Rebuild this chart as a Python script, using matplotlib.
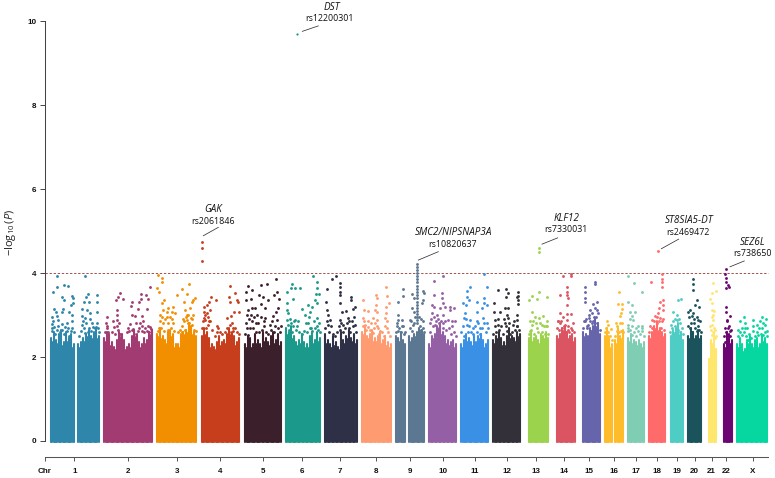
import matplotlib
matplotlib.use("Agg")
import matplotlib.pyplot as plt
import numpy as np

plt.rcParams["mathtext.fontset"] = "custom"
plt.rcParams["mathtext.rm"] = "Open Sans"
plt.rcParams["mathtext.it"] = "Open Sans:italic"

# Chromosome labels, tick positions on the cumulative genome axis, and colours
chrom_names = [str(i) for i in range(1, 23)] + ["X"]
chrom_ticks = [74.3, 127.7, 176.7, 220.3, 262.7, 302.3, 340.3, 376, 410, 442.7, 474.7, 506.7,
               536.3, 563.7, 589.3, 614, 636.3, 657, 676.7, 694.7, 711.7, 726, 752.7]
chrom_colors = ["#2E86AB", "#A23B72", "#F18F01", "#C73E1D", "#3B1F2B", "#1B998B", "#2D3047",
                "#FF9B71", "#5C7791", "#955FA5", "#3A90E5", "#33303A", "#9BD34D", "#DB5461",
                "#6665AB", "#FFBC2A", "#7FCDB2", "#FF6B6B", "#4ECDC4", "#1A535C", "#FFE66D",
                "#6A0572", "#06D6A0"]

# Covered stretches per chromosome (start, end); 1, 9 and 16 are split at the centromere
spans = [[(50.0, 75.0), (77.3, 99.7)], [(103.3, 153.0)], [(156.3, 197.3)], [(201.0, 240.3)],
         [(244.3, 281.7)], [(285.0, 321.0)], [(324.0, 357.7)], [(361.0, 391.7)],
         [(395.0, 406.0), (408.3, 425.0)], [(428.3, 457.0)], [(460.3, 489.3)], [(492.3, 520.7)],
         [(527.7, 549.0)], [(556.0, 575.7)], [(582.3, 601.0)], [(604.0, 612.7), (614.0, 624.0)],
         [(627.3, 645.0)], [(648.3, 665.7)], [(669.7, 684.0)], [(687.3, 702.0)],
         [(707.7, 717.0)], [(723.3, 732.7)], [(736.0, 768.3)]]

# Upper edge of the dense mass of variants, left to right along each stretch
mass_1a = [2.45, 2.6, 2.4, 2.55, 2.65, 2.35, 2.6, 2.45, 2.55, 2.3]
mass_1b = [2.3, 2.35, 2.45, 2.55, 2.65, 2.5, 2.6, 2.7, 2.5]
mass_2 = [2.45, 2.6, 2.55, 2.35, 2.25, 2.4, 2.6, 2.55, 2.4, 2.25, 2.3, 2.5, 2.65, 2.55, 2.35, 2.3, 2.45, 2.4, 2.6, 2.65]
mass_3 = [2.55, 2.7, 2.5, 2.4, 2.6, 2.65, 2.55, 2.3, 2.3, 2.55, 2.6, 2.65, 2.8, 2.75, 2.6, 2.5]
mass_4 = [2.5, 2.7, 2.6, 2.45, 2.3, 2.25, 2.35, 2.5, 2.35, 2.4, 2.55, 2.7, 2.6, 2.5, 2.35, 2.45]
mass_5 = [2.3, 2.5, 2.45, 2.3, 2.55, 2.4, 2.3, 2.6, 2.45, 2.35, 2.5, 2.6, 2.4, 2.55, 2.35]
mass_6 = [2.7, 2.6, 2.75, 2.5, 2.35, 2.4, 2.55, 2.35, 2.3, 2.5, 2.6, 2.4, 2.6, 2.45]
mass_7 = [2.55, 2.4, 2.3, 2.5, 2.35, 2.25, 2.6, 2.4, 2.5, 2.65, 2.45, 2.55, 2.4]
mass_8 = [2.6, 2.75, 2.5, 2.55, 2.65, 2.45, 2.5, 2.6, 2.4, 2.5, 2.35, 2.3]
mass_9a = [2.5, 2.45, 2.6, 2.4, 2.3]
mass_9b = [2.5, 2.45, 2.55, 2.6, 2.7, 2.65, 2.55]
mass_10 = [2.3, 2.5, 2.55, 2.75, 2.8, 2.6, 2.5, 2.4, 2.35, 2.4, 2.3]
mass_11 = [2.3, 2.4, 2.55, 2.45, 2.35, 2.5, 2.35, 2.5, 2.55, 2.4, 2.3, 2.4]
mass_12 = [2.4, 2.5, 2.6, 2.45, 2.35, 2.5, 2.7, 2.5, 2.45, 2.6, 2.55]
mass_13 = [2.45, 2.6, 2.45, 2.5, 2.4, 2.55, 2.5, 2.6, 2.45]
mass_14 = [2.5, 2.55, 2.7, 2.75, 2.6, 2.5, 2.55, 2.45]
mass_15 = [2.6, 2.55, 2.5, 2.7, 2.75, 2.9, 2.8, 2.55]
mass_16a = [2.5, 2.7, 2.45, 2.3]
mass_16b = [2.4, 2.7, 2.5, 2.65]
mass_17 = [2.45, 2.55, 2.4, 2.35, 2.4, 2.3, 2.35]
mass_18 = [2.5, 2.6, 2.75, 2.85, 2.7, 2.6, 2.55]
mass_19 = [2.5, 2.65, 2.7, 2.8, 2.6, 2.4]
mass_20 = [2.5, 2.7, 2.6, 2.5, 2.65, 2.5]
mass_21 = [1.7, 2.4, 2.6, 2.2]
mass_22 = [2.3, 2.6, 2.55, 2.4]
mass_x = [2.3, 2.45, 2.3, 2.2, 2.4, 2.5, 2.3, 2.4, 2.45, 2.3, 2.5, 2.45, 2.3]
masses = [[mass_1a, mass_1b], [mass_2], [mass_3], [mass_4], [mass_5], [mass_6], [mass_7], [mass_8],
          [mass_9a, mass_9b], [mass_10], [mass_11], [mass_12], [mass_13], [mass_14], [mass_15],
          [mass_16a, mass_16b], [mass_17], [mass_18], [mass_19], [mass_20], [mass_21], [mass_22], [mass_x]]

# Individual variants standing above the mass: (position, -log10 P)
snps_1 = [(57.3, 3.93), (53.3, 3.55), (57.3, 3.68), (64, 3.72), (68, 3.69), (62, 3.42), (64.3, 3.35), (71.7, 3.46),
          (73.3, 3.40), (73.3, 3.28), (71, 3.24), (54, 3.14), (56, 3.08), (63.3, 3.14), (52.3, 2.95), (56.7, 2.97),
          (61.7, 3.08), (69.3, 3.08), (71.7, 3.0), (53.3, 2.85), (58.3, 2.89), (66.7, 2.82), (72, 2.87), (51.7, 2.69),
          (52, 2.61), (56.7, 2.65), (61.7, 2.65), (66.7, 2.61), (70.7, 2.63),
          (85, 3.94), (87.7, 3.50), (86, 3.44), (97.3, 3.47), (84.3, 3.32), (89.3, 3.30), (96.7, 3.32), (82.3, 3.15),
          (87.3, 3.12), (97.3, 3.07), (90, 3.04), (81.7, 2.97), (85, 2.93), (90, 2.90), (97.3, 2.81), (91.7, 2.81),
          (82.3, 2.77), (89.3, 2.69), (95, 2.69), (85, 2.57), (98.3, 2.69),
          (52, 2.78), (54, 2.72), (55, 2.55), (58, 2.75), (60, 2.6), (62, 2.78), (64, 2.55), (65, 2.72), (68, 2.7),
          (69, 2.5), (72, 2.7), (74, 2.6), (79, 2.5), (81, 2.62), (83, 2.85), (84, 2.7), (86, 2.8), (88, 2.6), (91, 2.62),
          (93, 2.72), (94, 2.55), (96, 2.72), (99, 2.6)]
snps_2 = [(120, 3.52), (118.3, 3.44), (123.3, 3.39), (115.7, 3.35), (131.7, 3.30), (131, 3.22), (141, 3.51),
          (145.7, 3.48), (141, 3.38), (147.7, 3.39), (150, 3.66), (139.3, 3.32), (117.3, 3.12), (107.3, 2.95),
          (116.7, 3.0), (113.3, 2.85), (138.3, 3.14), (146.7, 3.14), (131.7, 3.0), (135, 2.97), (141.7, 2.97),
          (143.3, 2.85), (140, 2.81), (106.7, 2.69), (116.7, 2.73), (128.3, 2.69), (148.3, 2.73), (133.3, 2.66),
          (141.7, 2.63),
          (105, 2.6), (105.5, 2.8), (107, 2.75), (108, 2.6), (112, 2.6), (114, 2.72), (115, 2.55), (117, 2.88), (118, 2.65),
          (119, 2.8), (120, 2.55), (127, 2.6), (129, 2.62), (130, 2.78), (132, 2.65), (134, 2.55), (136, 2.8), (138, 2.62),
          (139, 2.7), (142, 2.75), (144, 2.6), (145, 2.7), (147, 2.62), (149, 2.6), (150, 2.72), (151, 2.66)]
snps_3 = [(157.7, 3.96), (162.3, 3.88), (162.3, 3.80), (157.3, 3.64), (159.3, 3.54), (189.3, 3.74), (181.7, 3.62),
          (176.7, 3.48), (187.3, 3.50), (195.3, 3.40), (192.7, 3.36), (184.3, 3.32), (191.7, 3.30), (164.3, 3.36),
          (162.3, 3.28), (173.3, 3.19), (168.3, 3.17), (163.3, 3.12), (190, 3.16), (185, 3.12), (160, 3.0),
          (166.7, 3.08), (171.7, 3.08), (188.3, 3.0), (190.7, 2.93), (186.7, 2.89), (193.3, 3.0), (163.3, 2.81),
          (168.3, 2.81), (173.3, 2.81), (181.7, 2.73), (188.3, 2.81), (191.7, 2.77), (159, 2.69),
          (158, 2.62), (160, 2.85), (161, 2.7), (162, 2.95), (164, 2.62), (165, 2.9), (167, 2.95), (168, 2.65), (170, 2.95),
          (171, 2.7), (172, 2.9), (174, 2.62), (178, 2.6), (180, 2.65), (182, 2.6), (184, 2.85), (185, 2.65), (186, 2.95),
          (187, 3.0), (189, 2.8), (190, 2.68), (192, 2.9), (194, 2.65), (196, 2.62), (183, 2.9), (175, 3.05)]
snps_4 = [(202.3, 4.73), (202.3, 4.61), (202.3, 4.29), (211, 3.42), (216, 3.35), (209.3, 3.30), (206.7, 3.24),
          (204, 3.20), (210, 3.12), (204, 3.08), (230, 3.70), (235.3, 3.52), (229, 3.42), (236.7, 3.36), (230, 3.31),
          (238, 3.31), (234.3, 3.08), (238.7, 3.07), (226.7, 2.93), (230.7, 2.97), (205, 2.89), (209.3, 2.85),
          (204, 2.93), (218.3, 2.69), (216.7, 2.73), (230, 2.77), (233.3, 2.69), (208.3, 2.77),
          (202, 2.7), (203, 2.85), (205, 3.0), (206, 2.7), (207, 3.05), (208, 2.95), (210, 2.85), (212, 2.65), (220, 2.6),
          (222, 2.55), (225, 2.6), (227, 2.7), (229, 2.6), (232, 2.8), (233, 2.62), (235, 2.7), (237, 2.6), (239, 2.55),
          (217, 2.6), (215, 2.5)]
snps_5 = [(248.3, 3.70), (246, 3.55), (252.3, 3.60), (259.3, 3.48), (246, 3.35), (250.7, 3.38), (252.3, 3.16),
          (255, 3.17), (248.3, 3.12), (256.7, 3.0), (251.7, 2.85), (247.3, 2.69), (255.7, 2.81), (248.3, 2.53),
          (275.7, 3.85), (267.3, 3.74), (261, 3.72), (276.7, 3.55), (274, 3.48), (262.7, 3.44), (268.3, 3.36),
          (279, 3.39), (265, 3.18), (261, 3.27), (278.3, 3.16), (276, 3.07), (265, 2.93), (273.3, 2.97), (277.3, 2.89),
          (270, 2.77), (264, 2.73),
          (245, 2.55), (246, 2.8), (247, 3.0), (249, 2.9), (250, 2.7), (251, 3.0), (253, 2.7), (254, 2.95), (256, 2.6),
          (258, 2.8), (259, 2.6), (261, 2.95), (262, 2.65), (264, 2.85), (266, 2.6), (268, 2.55), (271, 2.65), (272, 2.85),
          (274, 2.6), (275, 2.75), (278, 2.7), (280, 2.6), (281, 2.75)]
snps_6 = [(312.7, 3.92), (292.3, 3.74), (300, 3.64), (295, 3.64), (286.7, 3.55), (290.7, 3.64), (317.3, 3.78),
          (316.7, 3.64), (316, 3.50), (319.3, 3.50), (292.7, 3.39), (315, 3.36), (316.7, 3.28), (308.3, 3.24),
          (311.7, 3.19), (302.3, 3.14), (286.7, 3.28), (286.7, 3.12), (288.3, 3.04), (305, 3.0), (310, 3.08),
          (290, 2.9), (295, 2.89), (316.7, 2.93), (298.3, 2.85), (308.3, 2.81), (288.3, 2.77), (293.3, 2.73),
          (318.3, 2.65), (310, 2.69),
          (287, 2.88), (289, 2.65), (291, 2.8), (292, 2.6), (294, 2.85), (296, 2.65), (297, 2.75), (299, 2.6), (302, 2.55),
          (304, 2.62), (306, 2.8), (307, 2.6), (309, 2.95), (311, 2.7), (312, 2.62), (314, 2.85), (315, 2.7), (317, 2.75),
          (319, 2.82), (320, 2.6)]
snps_7 = [(335.7, 3.93), (331.7, 3.86), (340, 3.76), (340, 3.66), (326.7, 3.62), (340, 3.56), (340, 3.48),
          (350.7, 3.44), (350.7, 3.36), (326, 3.32), (340, 3.28), (326.7, 3.12), (328.3, 3.0), (355, 3.2), (352.7, 3.14),
          (346, 3.1), (341.7, 3.07), (348.3, 2.93), (330, 2.89), (340, 2.89), (351.7, 2.85), (343.3, 2.77), (328.3, 2.77),
          (355, 2.77), (340, 2.65), (349.3, 2.69),
          (325, 2.7), (327, 2.85), (329, 2.6), (331, 2.75), (333, 2.55), (335, 2.5), (337, 2.6), (339, 2.75), (341, 2.8),
          (343, 2.6), (345, 2.7), (347, 2.8), (349, 2.85), (350, 2.6), (353, 2.75), (354, 2.95), (356, 2.6)]
snps_8 = [(386, 3.66), (376, 3.48), (377.3, 3.40), (386.7, 3.46), (362.7, 3.36), (389, 3.28), (386, 3.2), (376, 3.24),
          (377.3, 3.08), (375, 3.12), (364, 3.11), (368.3, 3.10), (386, 3.04), (385, 2.93), (363.3, 2.93), (373.3, 2.93),
          (376.7, 2.89), (368.3, 2.85), (365, 2.77), (376.7, 2.74), (386.7, 2.69), (370, 2.65), (380, 2.63), (373.3, 2.57),
          (363, 2.75), (364, 2.85), (366, 2.65), (368, 2.72), (371, 2.8), (372, 2.6), (374, 2.7), (375, 2.8), (378, 2.7),
          (379, 2.55), (382, 2.6), (384, 2.5), (385, 2.75), (387, 2.85), (388, 2.6), (390, 2.5)]
snps_9 = [(403.3, 3.62), (402.7, 3.46), (398.3, 3.31), (398.3, 3.0), (398.3, 2.89), (397.3, 2.81), (401.7, 2.89),
          (403.3, 2.73), (398.3, 2.61), (411.7, 3.5), (422.7, 3.58), (424, 3.52), (414, 3.4), (421.7, 3.28), (422.7, 3.36),
          (411.7, 3.16), (414, 3.08), (421, 2.9), (410, 2.89), (413.3, 2.77), (422.7, 2.69), (420, 2.61),
          (417, 4.22), (417, 4.15), (417, 4.08), (417, 4.0), (417, 3.92), (417, 3.85), (417, 3.78), (417, 3.7), (417, 3.62),
          (417, 3.55), (417, 3.48), (417, 3.4), (417, 3.32), (417, 3.25), (417, 3.18), (417, 3.1), (417, 3.02), (417, 2.95),
          (417, 2.88), (417, 2.8),
          (396, 2.6), (397, 2.75), (399, 2.7), (401, 2.6), (402, 2.75), (404, 2.55), (405, 2.6), (410, 2.7), (411, 2.85),
          (412, 2.62), (414, 2.8), (415, 2.95), (419, 2.95), (420, 2.75), (421, 2.65), (423, 2.85), (424, 2.6)]
snps_10 = [(442.7, 3.92), (434.3, 3.81), (434.3, 3.48), (442.3, 3.52), (442.3, 3.40), (431.7, 3.24), (434, 3.2),
           (443.3, 3.28), (445, 3.2), (450, 3.2), (454, 3.16), (440, 3.16), (450, 3.12), (431.7, 3.04), (436.7, 3.0),
           (442.7, 3.0), (430, 2.81), (438.3, 2.9), (448.3, 2.89), (455, 2.85), (435, 2.77), (443.3, 2.81), (451.7, 2.73),
           (430, 2.6), (431, 2.9), (433, 2.75), (434, 2.95), (436, 2.85), (437, 2.7), (439, 2.8), (441, 2.85), (443, 2.7),
           (445, 2.85), (446, 2.65), (449, 2.7), (451, 2.55), (452, 2.85), (454, 2.6), (456, 2.5)]
snps_11 = [(484.3, 3.97), (470.3, 3.68), (486.7, 3.68), (467.3, 3.58), (466.7, 3.44), (469.3, 3.35), (462.7, 3.28),
           (465.7, 3.24), (477.3, 3.32), (484, 3.40), (484, 3.28), (487.3, 3.24), (481.7, 3.16), (476.7, 3.08), (465, 3.04),
           (464, 2.93), (470, 2.89), (476.7, 2.85), (482.7, 2.93), (486.7, 2.81), (466.7, 2.77), (473.3, 2.69), (480, 2.69),
           (461, 2.6), (463, 2.75), (464, 2.5), (466, 2.9), (468, 2.6), (469, 2.75), (471, 2.6), (473, 2.55), (475, 2.75),
           (477, 2.6), (478, 2.8), (480, 2.55), (482, 2.7), (484, 2.8), (486, 2.6), (488, 2.7)]
snps_12 = [(497.7, 3.6), (506, 3.62), (507.7, 3.52), (518.3, 3.56), (516.7, 3.44), (506, 3.44), (494.3, 3.28),
           (518.3, 3.46), (518.3, 3.36), (518.3, 3.26), (508.3, 3.16), (505, 3.16), (500, 3.08), (494.3, 3.08), (506.7, 3.0),
           (516.7, 3.0), (508.3, 2.93), (495, 2.89), (516.7, 2.89), (498.3, 2.77), (513.3, 2.77), (505, 2.81), (516.7, 2.73),
           (493, 2.55), (495, 2.75), (496, 2.6), (498, 2.9), (499, 2.65), (501, 2.75), (503, 2.55), (504, 2.9), (506, 2.75),
           (507, 2.62), (509, 2.8), (510, 2.55), (512, 2.6), (514, 2.85), (515, 2.65), (517, 2.75), (519, 2.65)]
snps_13 = [(539.3, 4.61), (539.3, 4.51), (539.3, 3.56), (532.3, 3.46), (546.7, 3.44), (536.7, 3.39), (529.3, 3.35),
           (532.3, 3.08), (535, 2.95), (539, 2.93), (543.3, 2.97), (546.7, 2.86), (530, 2.86), (541.7, 2.77), (531.7, 2.77),
           (536.7, 2.69), (545.7, 2.73), (530, 2.63),
           (529, 2.55), (531, 2.65), (533, 2.85), (534, 2.55), (536, 2.8), (538, 2.6), (540, 2.8), (542, 2.6), (544, 2.75),
           (545, 2.55), (547, 2.75), (548, 2.55)]
snps_14 = [(571, 3.97), (570.5, 3.94), (563.3, 3.92), (566.7, 3.66), (567.3, 3.56), (567.3, 3.48), (560, 3.48),
           (568.3, 3.40), (566.7, 3.24), (560, 3.04), (566.7, 3.03), (571, 3.03), (557.7, 2.85), (563.3, 2.95), (566.7, 2.89),
           (560, 2.81), (565, 2.77), (572.3, 2.65), (561.7, 2.69), (568.3, 2.65),
           (557, 2.7), (558, 2.85), (559, 2.65), (561, 2.85), (562, 2.6), (564, 2.75), (566, 2.6), (568, 2.75), (569, 2.6),
           (571, 2.7), (573, 2.8), (574, 2.6)]
snps_15 = [(595.3, 3.78), (595.3, 3.75), (585, 3.68), (585, 3.54), (585, 3.40), (585, 3.32), (596.7, 3.3), (593.3, 3.27),
           (595, 3.16), (590, 3.12), (591.7, 3.04), (596.7, 3.12), (589, 2.93), (585, 2.85), (593.3, 2.85), (596.7, 2.81),
           (588.3, 2.77), (595, 2.69), (591.7, 2.61), (586.7, 2.69),
           (583, 2.7), (584, 2.85), (586, 2.9), (587, 2.75), (589, 3.0), (590, 2.85), (592, 2.8), (594, 2.95), (596, 2.95),
           (597, 2.7), (598, 3.05), (600, 2.65)]
snps_16 = [(619.3, 3.54), (617.7, 3.27), (622.3, 3.27), (621.7, 3.14), (621, 3.04), (620, 2.98), (606.7, 2.85),
           (608.3, 2.77), (610.7, 2.67), (616, 2.81), (616.7, 2.61), (621, 2.61), (608.3, 2.49),
           (605, 2.6), (606, 2.7), (608, 2.6), (610, 2.5), (612, 2.4), (615, 2.5), (617, 2.75), (619, 2.6), (620, 2.8),
           (622, 2.8), (623, 2.6)]
snps_17 = [(628.3, 3.94), (634, 3.76), (642, 3.55), (628.3, 3.31), (631.7, 3.24), (630, 3.08), (635, 3.08), (631.7, 2.97),
           (628.3, 2.77), (633.3, 2.89), (641.7, 2.74), (628.3, 2.61), (638.3, 2.61), (641.7, 2.61), (631.7, 2.53), (635.7, 2.49),
           (628, 2.7), (630, 2.65), (632, 2.75), (634, 2.6), (636, 2.7), (638, 2.75), (640, 2.55), (642, 2.7), (644, 2.5), (630, 2.9)]
snps_18 = [(657.7, 4.53), (661.7, 3.98), (661.7, 3.86), (661.7, 3.78), (661.7, 3.66), (651, 3.79), (663.3, 3.35),
           (660, 3.31), (663.3, 3.24), (659, 3.16), (662.7, 3.12), (658.3, 3.04), (655, 2.97), (651.7, 2.89), (660, 2.93),
           (656.7, 2.81), (661.7, 2.85), (653.3, 2.69),
           (649, 2.6), (650, 2.75), (652, 2.7), (654, 2.85), (655, 2.65), (657, 2.95), (659, 2.85), (661, 2.7), (663, 2.9), (664, 2.65)]
snps_19 = [(681, 3.38), (678.3, 3.36), (673.3, 3.08), (677.3, 3.0), (676.7, 2.89), (671, 2.77), (680, 2.81), (675, 2.73),
           (678.3, 2.65), (671.7, 2.53),
           (670, 2.6), (672, 2.7), (673, 2.85), (675, 2.9), (677, 2.65), (679, 2.9), (680, 2.6), (682, 2.7), (683, 2.55)]
snps_20 = [(693.3, 3.86), (693.3, 3.74), (693.3, 3.60), (696.7, 3.35), (695, 3.24), (699.3, 3.19), (690, 3.12),
           (692.7, 3.04), (688.3, 3.08), (691.7, 2.97), (698.3, 2.89), (694, 2.81), (698.3, 2.73), (690, 2.69), (696.7, 2.61),
           (688, 2.75), (689, 2.95), (691, 2.8), (692, 2.6), (694, 2.9), (695, 2.7), (697, 2.95), (699, 2.65), (700, 2.85), (701, 2.6)]
snps_21 = [(713.3, 3.77), (715.7, 3.58), (711.7, 3.52), (710, 3.39), (712.3, 3.28), (712.3, 3.12), (713.3, 3.0),
           (713.3, 2.89), (712.3, 2.77), (714.3, 2.69), (711.7, 2.53), (715, 2.45),
           (710, 2.75), (711, 2.65), (714, 3.1), (712, 2.95), (713, 2.6), (715, 2.65), (716, 2.5)]
snps_22 = [(726.3, 4.09), (725, 3.97), (726.3, 3.88), (726.3, 3.78), (728.3, 3.72), (729, 3.68), (726.3, 3.64),
           (726.3, 3.19), (726.3, 3.08), (730, 2.97), (726.7, 2.89), (728.3, 2.69), (730, 2.61), (726.7, 2.53), (728.3, 2.45),
           (725, 2.37), (728.3, 2.25),
           (724, 2.5), (725, 2.7), (726, 2.6), (727, 2.85), (729, 2.75), (730, 2.5), (731, 2.65)]
snps_x = [(744.3, 2.95), (761.7, 2.95), (765.7, 2.9), (740, 2.85), (753.3, 2.89), (760, 2.85), (745, 2.81), (765, 2.77),
          (738.3, 2.65), (745, 2.69), (756.7, 2.77), (761.7, 2.69), (753.3, 2.61), (741.7, 2.53), (766.7, 2.61), (758.3, 2.53),
          (748.3, 2.41), (763.3, 2.53),
          (738, 2.5), (740, 2.6), (742, 2.7), (744, 2.6), (746, 2.5), (747, 2.7), (749, 2.55), (751, 2.45), (753, 2.75),
          (755, 2.5), (757, 2.6), (759, 2.7), (761, 2.55), (763, 2.8), (765, 2.6), (767, 2.5)]
snps = [snps_1, snps_2, snps_3, snps_4, snps_5, snps_6, snps_7, snps_8, snps_9, snps_10, snps_11, snps_12,
        snps_13, snps_14, snps_15, snps_16, snps_17, snps_18, snps_19, snps_20, snps_21, snps_22, snps_x]

# Genome-wide top hit on chromosome 6
dst_hit = (296.7, 9.69)
dst_color = "#1B998B"

# Gene label, lead variant, label x and y, and the leader line between them
gene_names = ["DST", "GAK", "SMC2/NIPSNAP3A", "KLF12", "ST8SIA5-DT", "SEZ6L"]
lead_snps = ["rs12200301", "rs2061846", "rs10820637", "rs7330031", "rs2469472", "rs738650"]
gene_xy = [(331.7, 10.33), (213.3, 5.52), (453.3, 4.96), (566.7, 5.31), (688.7, 5.25), (752.7, 4.73)]
rs_xy = [(330, 10.06), (212.7, 5.24), (452.3, 4.69), (565.7, 5.03), (688, 4.97), (752.3, 4.46)]
leaders = [((302.3, 9.76), (318.3, 9.89)), ((203.3, 4.89), (218.3, 5.09)), ((418.3, 4.31), (438.3, 4.51)),
           ((542, 4.69), (557.7, 4.84)), ((661.3, 4.58), (678.7, 4.81)), ((730, 4.15), (744.3, 4.29))]

threshold = 4
y_ticks = [0, 2, 4, 6, 8, 10]

fig = plt.figure(figsize=(7.75, 4.78), dpi=100)
ax = fig.add_axes([0, 0, 1, 1])
ax.set_xlim(0, 775)
ax.set_ylim(-0.8816, 10.507)
ax.patch.set_alpha(0)

# Threshold line beneath the points
ax.plot([44.5, 768], [threshold, threshold], color="#A8504A", lw=0.7, ls=(0, (2.4, 1.8)), zorder=1)

for color, chrom_spans, chrom_mass, chrom_snps in zip(chrom_colors, spans, masses, snps):
    for (start, end), tops in zip(chrom_spans, chrom_mass):
        half = 1.0
        xs = np.linspace(start + half, end - half, len(tops))
        # Solid body of the stretch, then its jagged top edge
        ax.fill_between([start + 0.3, end - 0.3], -0.03, 1.98, color=color, lw=0, zorder=2)
        ax.vlines(xs, -0.02, tops, colors=color, linewidth=2.1 * 72 / 100, capstyle="round", zorder=2)
        # Extra stems fill the gaps between neighbouring columns at a lower level
        mids = (xs[:-1] + xs[1:]) / 2
        low = np.minimum(np.array(tops[:-1]), np.array(tops[1:])) - 0.08
        ax.vlines(mids, -0.02, low, colors=color, linewidth=2.1 * 72 / 100, capstyle="round", zorder=2)
    xs, ys = zip(*chrom_snps)
    ax.scatter(xs, ys, s=4.2, color=color, linewidths=0, zorder=3)

ax.scatter([dst_hit[0]], [dst_hit[1]], s=2.6, color=dst_color, linewidths=0, zorder=3)

# Gene and lead-variant annotations
for gene, rs, gxy, rxy, (p0, p1) in zip(gene_names, lead_snps, gene_xy, rs_xy, leaders):
    ax.text(gxy[0], gxy[1], gene, ha="center", va="center", style="italic",
            family="Open Sans", fontsize=7.1, color="#111111")
    ax.text(rxy[0], rxy[1], rs, ha="center", va="center",
            family="Open Sans", fontsize=6.4, color="#111111")
    ax.plot([p0[0], p1[0]], [p0[1], p1[1]], color="#333333", lw=0.55, zorder=4)

# Axes: left spine for the association scale, detached lower spine for the chromosomes
for side in ("top", "right"):
    ax.spines[side].set_visible(False)
ax.spines["left"].set_position(("data", 44.5))
ax.spines["left"].set_bounds(0, 10)
ax.spines["bottom"].set_position(("data", -0.393))
ax.spines["bottom"].set_bounds(44.5, 768)
ax.spines["left"].set_color("#444444")
ax.spines["bottom"].set_color("#555555")
ax.spines["left"].set_linewidth(0.75)
ax.spines["bottom"].set_linewidth(0.75)

ax.set_yticks(y_ticks)
ax.set_yticklabels([str(v) for v in y_ticks], family="Liberation Sans", fontweight="bold", fontsize=5.8)
ax.set_xticks([44.5] + chrom_ticks)
ax.set_xticklabels(["Chr"] + chrom_names, family="Liberation Sans", fontweight="bold", fontsize=5.8)
ax.tick_params(axis="y", length=3.4, width=0.7, pad=2.5, color="#444444", labelcolor="#111111")
ax.tick_params(axis="x", length=3.2, width=0.7, pad=4.2, color="#555555", labelcolor="#111111")

ax.set_ylabel(r"$-\log_{10}(P)$", fontsize=8, color="#222222")
ax.yaxis.set_label_coords(18 / 775, 1 - 232 / 478)

fig.savefig("out.png", dpi=100)
